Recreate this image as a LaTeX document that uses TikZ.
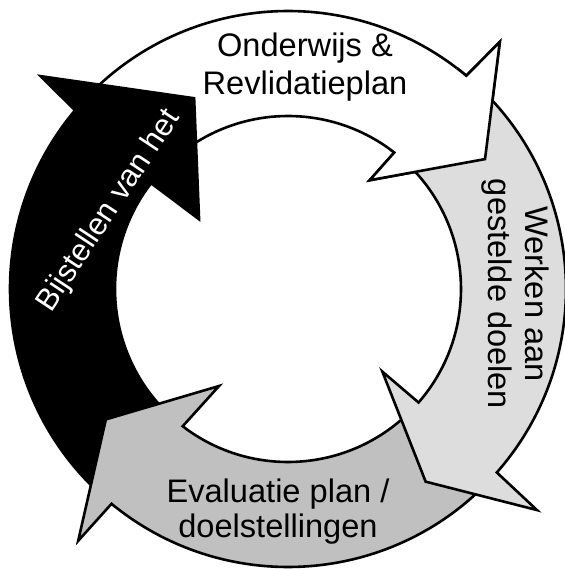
\documentclass[tikz,border=0pt]{standalone}
\usepackage{fontspec}
\setmainfont{Liberation Sans}
\usepackage{tikz}
\definecolor{lightgrey}{HTML}{DDDDDD}
\definecolor{midgrey}{HTML}{C0C0C0}

\begin{document}
\begin{tikzpicture}[
    x=0.5pt, y=0.5pt, % one unit is one pixel, origin at the ring centre
    ringarrow/.style={draw=black, line width=1.3pt, line join=miter},
    every node/.style={font=\fontsize{16.3}{19}\selectfont, align=center}
]
    \useasboundingbox (-288,-280) rectangle (277,289);

    % 1. Top arrow (white), tail hidden under the black head
    \draw[ringarrow, fill=white] (136:278) arc[start angle=136, end angle=50.1, radius=278]
        -- (49.4:325.5) -- (33.4:236) -- (53.1:136) -- (52.1:173)
        arc[start angle=52.1, end angle=136, radius=173] -- cycle;

    % 2. Left arrow (black)
    \draw[ringarrow, fill=black] (227.5:278) arc[start angle=227.5, end angle=140, radius=278]
        -- (139.3:326.4) -- (116.2:212.6) -- (141.9:113) -- (142.3:173)
        arc[start angle=142.3, end angle=227.5, radius=173] -- cycle;

    % 3. Bottom arrow (mid grey)
    \draw[ringarrow, fill=midgrey] (-44:278) arc[start angle=-44, end angle=-129.4, radius=278]
        -- (230.2:327.8) -- (215.6:224) -- (234.6:119) -- (-127.5:173)
        arc[start angle=-127.5, end angle=-44, radius=173] -- cycle;

    % 4. Right arrow (light grey)
    \draw[ringarrow, fill=lightgrey] (47.5:278) arc[start angle=47.5, end angle=-41.3, radius=278]
        -- (-41.6:333) -- (-54.45:236.8) -- (-41.2:125.4) -- (-41:173)
        arc[start angle=-41, end angle=47.5, radius=173] -- cycle;

    % head of the white arrow once more, on top of the light grey tail
    \begin{scope}
        \clip (56:100) -- (52:400) -- (20:400) -- (20:100) -- cycle;
        \draw[ringarrow, fill=white] (136:278) arc[start angle=136, end angle=50.1, radius=278]
            -- (49.4:325.5) -- (33.4:236) -- (53.1:136) -- (52.1:173)
            arc[start angle=52.1, end angle=136, radius=173] -- cycle;
    \end{scope}

    % Labels
    \node (Onderwijs) at (17,222) {Onderwijs \&\\Revlidatieplan};
    \node[rotate=-90, font=\fontsize{16.3}{18.5}\selectfont] (Werken) at (227,-5)
        {Werken aan\\gestelde doelen};
    \node[font=\fontsize{16.3}{17.7}\selectfont] (Evaluatie) at (-10,-222.5)
        {Evaluatie plan /\\doelstellingen};
    \node[rotate=56.5, text=white, font=\fontsize{15.5}{18}\selectfont] (Bijstellen) at (-179,78)
        {Bijstellen van het};
\end{tikzpicture}
\end{document}
